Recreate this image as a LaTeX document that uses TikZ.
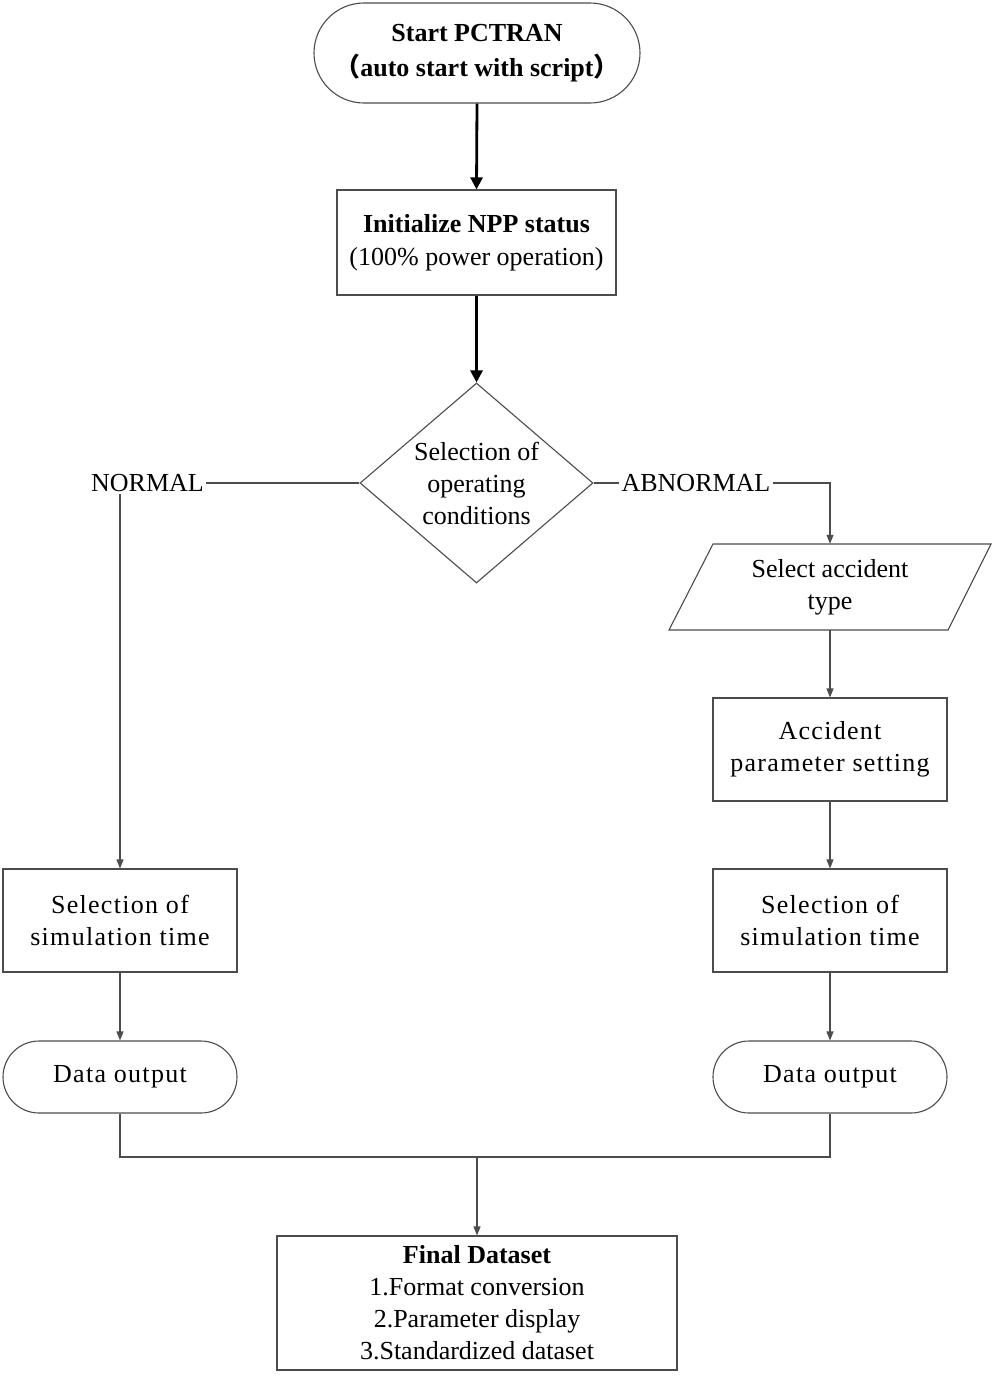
\documentclass[tikz,border=0pt]{standalone}
\usepackage{fontspec}
\setmainfont{Liberation Serif}
\newfontfamily\cjk{Noto Sans CJK SC}
\newfontfamily\spaced[LetterSpace=5]{Liberation Serif}
\usetikzlibrary{shapes.geometric,arrows.meta}
\tikzset{
  txt/.style={font=\fontsize{26}{32}\selectfont, align=center},
  thin/.style={draw=black!70, line width=1.1pt},
  arr/.style={thin, -{Triangle[length=9pt,width=7pt]}},
  thickarr/.style={draw=black, line width=2.8pt, -{Triangle[length=12pt,width=12pt]}},
  box/.style={txt, thin, rectangle, inner sep=0pt},
  stadium/.style={box, rounded corners=#1},
  decision/.style={txt, thin, diamond, inner sep=0pt, aspect=1.165},
  lbl/.style={txt, inner sep=2pt}
}
\begin{document}
\begin{tikzpicture}[x=1pt,y=-1pt]
\useasboundingbox (0,0) rectangle (993,1379);
\fill[white] (0,0) rectangle (993,1379);

\node[stadium=50pt, minimum width=326pt, minimum height=100pt, font=\fontsize{26}{35}\selectfont] (start) at (477,53)
  {\textbf{Start PCTRAN}\\\textbf{{\cjk （}auto start with script{\cjk ）}}};
\node[box, minimum width=279pt, minimum height=105pt, font=\fontsize{26}{33}\selectfont] (init) at (476.5,242.5)
  {\textbf{Initialize NPP status}\\(100\% power operation)};
\node[decision, minimum width=233pt, minimum height=200pt] (dia) at (476.5,483)
  {Selection of\\operating\\conditions};
\node[lbl] (normal) at (147.5,483) {NORMAL};
\node[lbl] (abn) at (696,483) {ABNORMAL};

\node[txt, minimum width=235pt, minimum height=86pt, inner sep=0pt] (acc) at (830,587)
  {Select accident\\type};
\draw[thin] (713,544) -- (991,544) -- (948,630) -- (669,630) -- cycle;

\node[box, minimum width=234pt, minimum height=103pt] (par) at (830,749.5)
  {\spaced Accident\\\spaced parameter setting};
\node[box, minimum width=234pt, minimum height=103pt] (rsel) at (830,920.5)
  {\spaced Selection of\\\spaced simulation time};
\node[stadium=36pt, minimum width=234pt, minimum height=72pt] (rout) at (830,1077)
  {\spaced Data output};
\node[box, minimum width=234pt, minimum height=103pt] (lsel) at (120,920.5)
  {\spaced Selection of\\\spaced simulation time};
\node[stadium=36pt, minimum width=234pt, minimum height=72pt] (lout) at (120,1077)
  {\spaced Data output};
\node[box, minimum width=400pt, minimum height=134pt] (fin) at (477,1303)
  {\textbf{Final Dataset}\\1.Format conversion\\2.Parameter display\\3.Standardized dataset};

\coordinate (j) at (477,1157);

\draw[thickarr] (start.south) -- (init.north);
\draw[thickarr] (init.south) -- (dia.north);
\draw[thin] (dia.west) -- (normal.east);
\draw[arr] (lsel.north |- normal.south) -- (lsel.north);
\draw[thin] (dia.east) -- (abn.west);
\draw[arr] (abn.east) -| (acc.north);
\draw[arr] (acc.south) -- (par.north);
\draw[arr] (par.south) -- (rsel.north);
\draw[arr] (rsel.south) -- (rout.north);
\draw[arr] (lsel.south) -- (lout.north);
\draw[thin] (lout.south) |- (j) -| (rout.south);
\draw[arr] (j) -- (fin.north);
\end{tikzpicture}
\end{document}
